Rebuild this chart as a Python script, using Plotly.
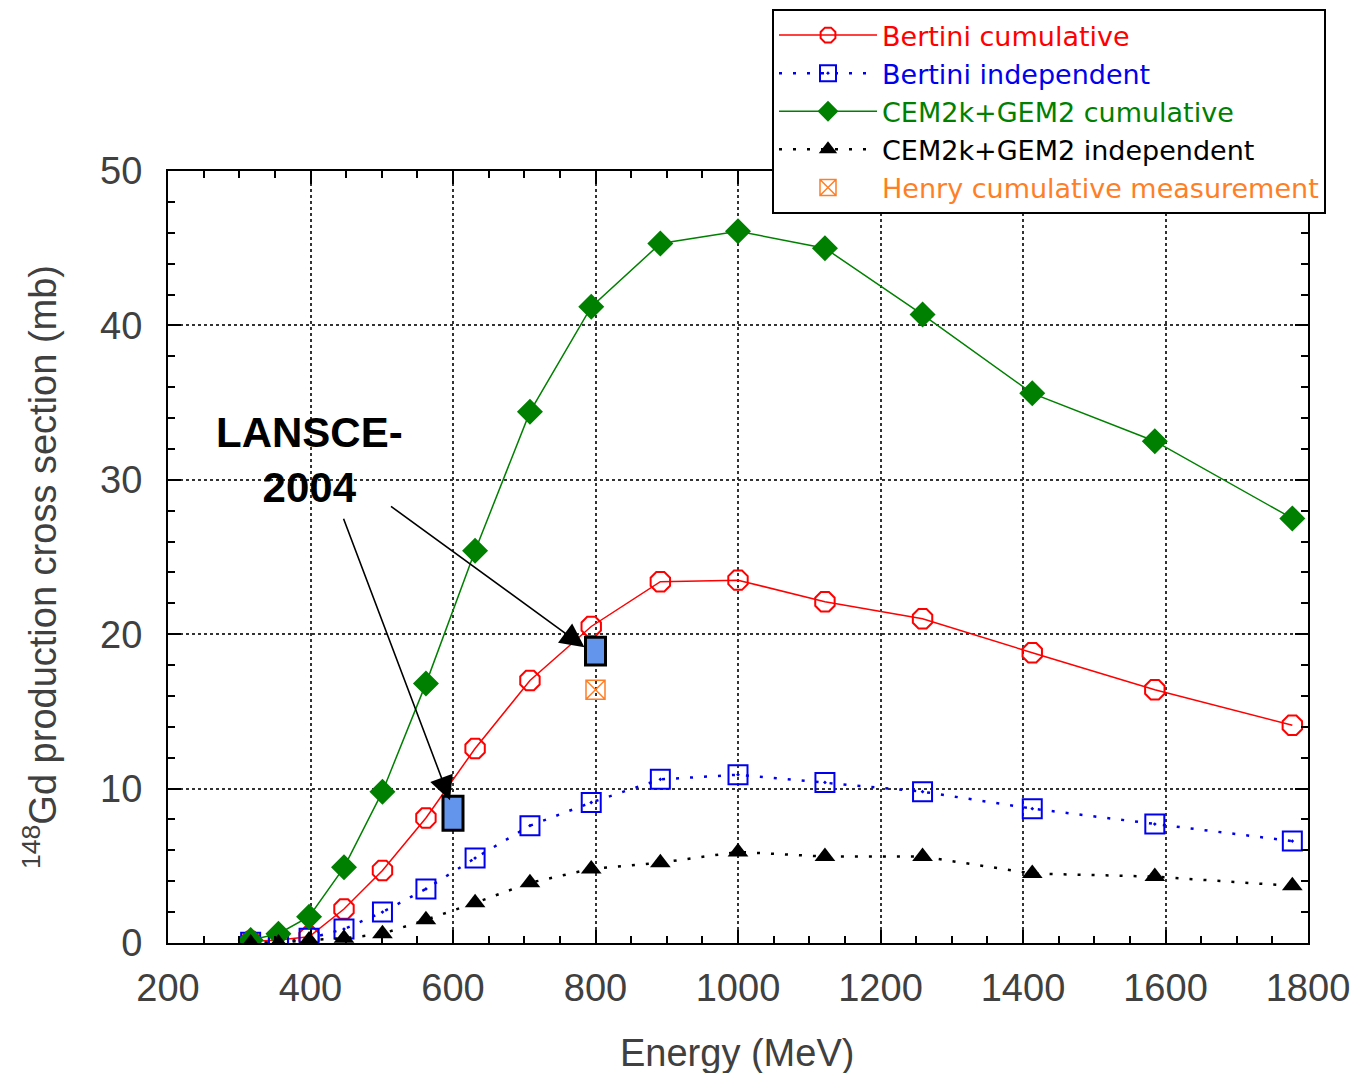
import plotly.graph_objects as go

energy = [316, 355, 398, 447, 501, 562, 631, 708, 794, 891, 1000, 1122, 1259, 1413, 1585, 1778]
bertini_cum = [0.1, 0.2, 0.4, 2.2, 4.7, 8.1, 12.6, 17.0, 20.5, 23.4, 23.5, 22.1, 21.0, 18.8, 16.4, 14.1]
bertini_ind = [0.05, 0.05, 0.3, 0.9, 2.0, 3.5, 5.5, 7.6, 9.1, 10.6, 10.9, 10.4, 9.8, 8.7, 7.7, 6.6]
cem_cum = [0.2, 0.6, 1.7, 4.9, 9.8, 16.8, 25.4, 34.4, 41.2, 45.3, 46.1, 45.0, 40.7, 35.6, 32.5, 27.5]
cem_ind = [0.0, 0.0, 0.2, 0.3, 0.6, 1.5, 2.6, 3.9, 4.8, 5.2, 5.9, 5.6, 5.6, 4.5, 4.3, 3.7]
henry_e = [800]
henry_v = [16.4]
lansce_e = [600, 800]
lansce_v = [8.4, 18.9]
lansce_err = [1.1, 0.9]

FONT = "Liberation Sans, Arial, sans-serif"
LFONT = "DejaVu Sans, sans-serif"


def colored(text, color):
    return f"<span style='color:{color}'>{text}</span>"


fig = go.Figure()
fig.add_trace(go.Scatter(x=energy, y=bertini_cum, mode="lines+markers",
                         name=colored("Bertini cumulative", "#ff0000"),
                         line=dict(color="#ff0000", width=1.5),
                         marker=dict(symbol="octagon-open", size=21, color="#ff0000", line=dict(width=2))))
fig.add_trace(go.Scatter(x=energy, y=bertini_ind, mode="lines+markers",
                         name=colored("Bertini independent", "#0000ee"),
                         line=dict(color="#0000ee", width=2.5, dash="3px,11px"),
                         marker=dict(symbol="square-open-dot", size=19, color="#0000ee", line=dict(width=2))))
fig.add_trace(go.Scatter(x=energy, y=cem_cum, mode="lines+markers",
                         name=colored("CEM2k+GEM2 cumulative", "#008000"),
                         line=dict(color="#008000", width=1.5),
                         marker=dict(symbol="diamond", size=20, color="#008000")))
fig.add_trace(go.Scatter(x=energy, y=cem_ind, mode="lines+markers",
                         name=colored("CEM2k+GEM2 independent", "#000000"),
                         line=dict(color="#000000", width=2.5, dash="3px,11px"),
                         marker=dict(symbol="triangle-up", size=18, color="#000000")))
fig.add_trace(go.Scatter(x=henry_e, y=henry_v, mode="markers",
                         name=colored("Henry cumulative measurement", "#ff7f27"),
                         marker=dict(symbol="square-x-open", size=19, color="#ff7f27", line=dict(width=1.5))))

# LANSCE-2004 boxes
for e, v, err in zip(lansce_e, lansce_v, lansce_err):
    fig.add_shape(type="rect", xref="x", yref="y", xsizemode="pixel", xanchor=e,
                  x0=-10, x1=10, y0=v - err, y1=v + err,
                  fillcolor="#6495ed", line=dict(color="#000000", width=3), layer="above")

fig.add_annotation(x=398, y=31.3, xref="x", yref="y", text="<b>LANSCE-<br>2004</b>",
                   showarrow=False, font=dict(family=FONT, size=42, color="#000000"))
fig.add_annotation(x=lansce_e[1], y=lansce_v[1] + lansce_err[1], xref="x", yref="y", text="",
                   showarrow=True, arrowhead=2, arrowsize=3, arrowwidth=1.6, arrowcolor="#000000",
                   ax=-195, ay=-142, standoff=0, xshift=-11, yshift=-10)
fig.add_annotation(x=lansce_e[0], y=lansce_v[0] + lansce_err[0], xref="x", yref="y", text="",
                   showarrow=True, arrowhead=2, arrowsize=3, arrowwidth=1.6, arrowcolor="#000000",
                   ax=-107, ay=-283, standoff=0, xshift=-3, yshift=-4)

# axis titles
fig.add_annotation(x=0.499, y=-0.1425, xref="paper", yref="paper", showarrow=False,
                   xanchor="center", yanchor="middle",
                   text="Energy (MeV)", font=dict(family=FONT, size=38, color="#404040"))
fig.add_annotation(x=-0.1123, y=0.487, xref="paper", yref="paper", showarrow=False, textangle=-90,
                   xanchor="center", yanchor="middle",
                   text="<sup>148</sup>Gd production cross section (mb)",
                   font=dict(family=FONT, size=38, color="#404040"))

axis_common = dict(showline=True, linecolor="#000000", linewidth=2, mirror="allticks",
                   ticks="inside", ticklen=13, tickwidth=2, tickcolor="#000000",
                   showgrid=True, gridcolor="#333333", griddash="dot", gridwidth=2,
                   zeroline=False, automargin=False, ticklabeloverflow="allow",
                   tickfont=dict(family=FONT, size=38, color="#404040"))

fig.update_xaxes(range=[200, 1800], dtick=200, ticklabelstandoff=10,
                 minor=dict(dtick=50, ticks="inside", ticklen=7, tickwidth=1.5, tickcolor="#000000", showgrid=False),
                 **axis_common)
fig.update_yaxes(range=[0, 50], dtick=10, ticklabelstandoff=16,
                 minor=dict(dtick=2, ticks="inside", ticklen=7, tickwidth=1.5, tickcolor="#000000", showgrid=False),
                 **axis_common)

fig.update_layout(
    width=1352, height=1073,
    margin=dict(l=168, r=44, t=171, b=130, autoexpand=False),
    paper_bgcolor="#ffffff", plot_bgcolor="#ffffff",
    font=dict(family=FONT),
    showlegend=True,
    legend=dict(x=(772 - 168) / 1140, y=(943 - 9) / 772, xanchor="left", yanchor="top",
                bgcolor="#ffffff", bordercolor="#000000", borderwidth=2,
                font=dict(family=LFONT, size=27), itemwidth=98, tracegroupgap=0),
)

fig.write_html("out.html", config={"displayModeBar": False},
               post_script="document.body.style.margin='0';document.body.style.overflow='hidden';")
